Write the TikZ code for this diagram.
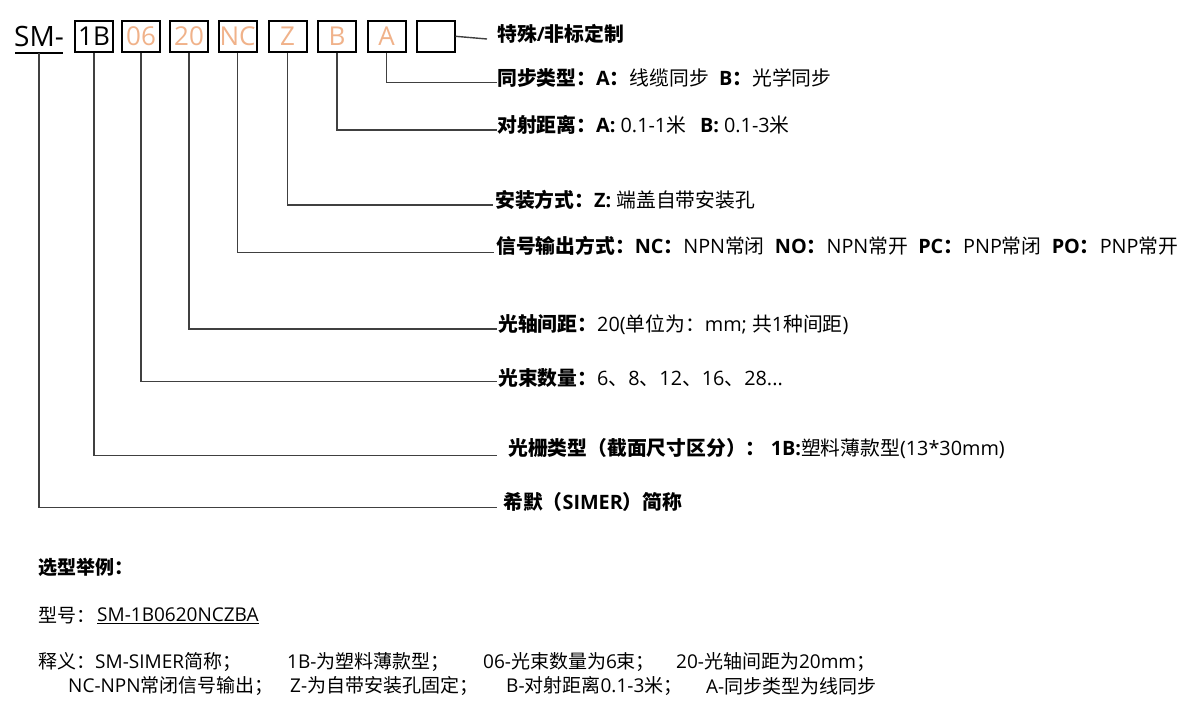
\documentclass[tikz,border=0pt]{standalone}
\usepackage{fontspec}
\setmainfont{Open Sans}
\newfontfamily\cjkfam{Noto Sans CJK SC}
\XeTeXinterchartokenstate=1
\newXeTeXintercharclass\CJKcls
\count255="3000
\loop\XeTeXcharclass\count255=\CJKcls\ifnum\count255<"303F \advance\count255 by 1 \repeat
\count255="4E00
\loop\XeTeXcharclass\count255=\CJKcls\ifnum\count255<"9FFF \advance\count255 by 1 \repeat
\count255="FF00
\loop\XeTeXcharclass\count255=\CJKcls\ifnum\count255<"FFEF \advance\count255 by 1 \repeat
\XeTeXinterchartoks 0 \CJKcls = {\begingroup\cjkfam}
\XeTeXinterchartoks 4095 \CJKcls = {\begingroup\cjkfam}
\XeTeXinterchartoks \CJKcls 0 = {\endgroup}
\XeTeXinterchartoks \CJKcls 4095 = {\endgroup}
\begin{document}
\begin{tikzpicture}[x=1pt,y=-1pt,
  box/.style={draw=black,line width=2pt,minimum width=38pt,minimum height=31pt,inner sep=0pt,font=\fontsize{26}{28}\selectfont,text=peach},
  conn/.style={draw=lineg,line width=1.4pt},
  lab/.style={anchor=west,inner sep=0pt,font=\fontsize{19.8}{22}\selectfont},
  note/.style={anchor=west,inner sep=0pt,font=\fontsize{19}{21}\selectfont}]
\definecolor{peach}{RGB}{240,178,138}
\definecolor{lineg}{RGB}{64,64,64}
\useasboundingbox (0,0) rectangle (1188,712);
% code boxes
\node[anchor=base west,inner sep=0pt,font=\fontsize{28}{30}\selectfont] (sm) at (14,46) {SM-};
\coordinate (smu1) at (15,52.7);
\coordinate (smu2) at (63,52.7);
\draw[line width=1.6pt] (smu1) -- (smu2);
\node[box,text=black] (b1) at (94,36.3) {1B};
\node[box] (b2) at (141,36.3) {06};
\node[box] (b3) at (189,36.3) {20};
\node[box] (b4) at (237.5,36.3) {NC};
\node[box] (b5) at (287.5,36.3) {Z};
\node[box] (b6) at (337,36.3) {B};
\node[box] (b7) at (386.5,36.3) {A};
\node[box] (b8) at (435.5,36.3) {};
% line ends
\coordinate (e0) at (487,39);
\coordinate (e1) at (497,82.7);
\coordinate (e2) at (497,130);
\coordinate (e3) at (493,205);
\coordinate (e4) at (494,252.7);
\coordinate (e5) at (497,329);
\coordinate (e6) at (497,381.7);
\coordinate (e7) at (497,455.7);
\coordinate (e8) at (497,507.7);
\coordinate (smv) at (39,52.7);
% connectors
\draw[conn] (b8.east) -- (e0);
\draw[conn] (b7.south) |- (e1);
\draw[conn] (b6.south) |- (e2);
\draw[conn] (b5.south) |- (e3);
\draw[conn] (b4.south) |- (e4);
\draw[conn] (b3.south) |- (e5);
\draw[conn] (b2.south) |- (e6);
\draw[conn] (b1.south) |- (e7);
\draw[conn] (smv) |- (e8);
% labels
\node[lab] (t0) at (497,34) {\textbf{特殊/非标定制}};
\node[lab] (t1) at (497,78) {\textbf{同步类型：A：}线缆同步\ \ \textbf{B：}光学同步};
\node[lab] (t2) at (497,125) {\textbf{对射距离：A:} 0.1-1米\hspace{14pt}\textbf{B:} 0.1-3米};
\node[lab] (t3) at (495,200) {\textbf{安装方式：Z:} 端盖自带安装孔};
\node[lab] (t4) at (496,246) {\textbf{信号输出方式：NC：}NPN常闭\ \ \textbf{NO：}NPN常开\ \ \textbf{PC：}PNP常闭\ \ \textbf{PO：}PNP常开};
\node[lab] (t5) at (498,325) {\textbf{光轴间距：}20(单位为：mm; 共1种间距)};
\node[lab] (t6) at (498,378) {\textbf{光束数量：}6、8、12、16、28...};
\node[lab] (t7) at (508,449) {\textbf{光栅类型（截面尺寸区分）：\ 1B:}塑料薄款型(13*30mm)};
\node[lab] (t8) at (503,502) {\textbf{希默（SIMER）简称}};
% example
\node[note] (x0) at (38,567) {\textbf{选型举例：}};
\node[note] (x1) at (38,615) {型号：};
\node[note] (x2) at (97,615) {SM-1B0620NCZBA};
\draw[line width=1pt] ([yshift=-1pt]x2.south west) -- ([yshift=-1pt]x2.south east);
\node[note] (x3) at (38,662) {释义：SM-SIMER简称；};
\node[note] (x4) at (287,662) {1B-为塑料薄款型；};
\node[note] (x5) at (483,662) {06-光束数量为6束；};
\node[note] (x6) at (676,662) {20-光轴间距为20mm；};
\node[note] (x7) at (68,686) {NC-NPN常闭信号输出；};
\node[note] (x8) at (290,686) {Z-为自带安装孔固定；};
\node[note] (x9) at (506,686) {B-对射距离0.1-3米；};
\node[note] (x10) at (706,686) {A-同步类型为线同步};
\end{tikzpicture}
\end{document}
